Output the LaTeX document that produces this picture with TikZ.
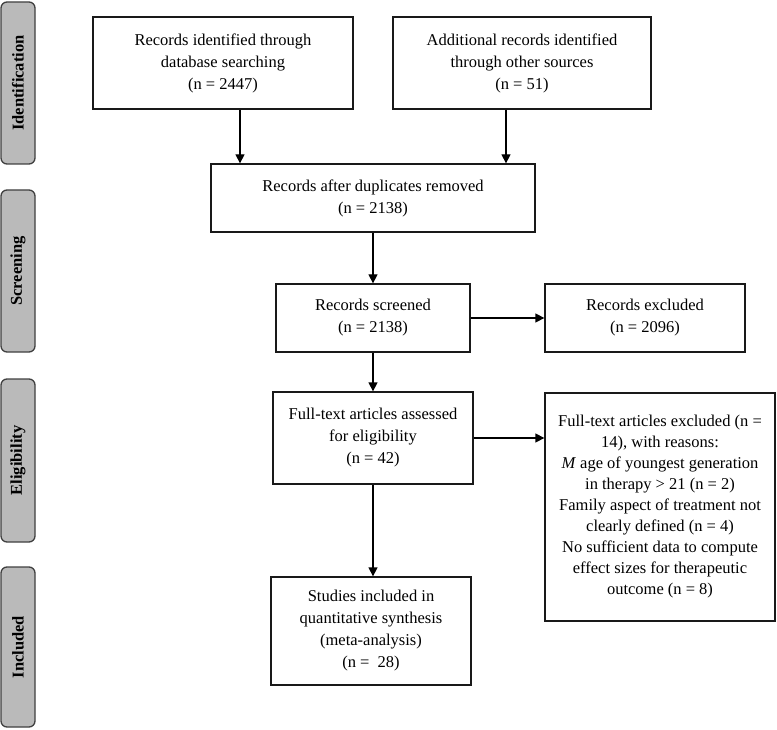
\documentclass[tikz,border=0pt]{standalone}
\usepackage{fontspec}
\setmainfont{Liberation Serif}
\usetikzlibrary{arrows.meta,calc}
\begin{document}
\begin{tikzpicture}[x=1pt,y=-1pt,
 box/.style={draw=black!90,line width=1.3pt,align=center,inner sep=0pt,font=\fontsize{16.5}{22}\selectfont},
 phase/.style={draw=black!75,fill=black!27,line width=1.3pt,rounded corners=6pt,inner sep=0pt,minimum height=34pt,font=\fontsize{16.5}{20}\selectfont\bfseries,rotate=90},
 arr/.style={line width=1.3pt,-{Triangle[length=9pt,width=9pt]}}]
\useasboundingbox (0,0) rectangle (777,730);
% phase labels
\node[phase,minimum width=162pt] (pid) at (18,83) {Identification};
\node[phase,minimum width=162pt] (psc) at (18,271) {Screening};
\node[phase,minimum width=163pt] (pel) at (18,460.5) {Eligibility};
\node[phase,minimum width=160pt] (pin) at (18,647) {Included};
% boxes
\node[box,minimum width=260pt,minimum height=92pt] (b1) at (223,63) {Records identified through\\database searching\\(n = 2447)};
\node[box,minimum width=258pt,minimum height=92pt] (b2) at (522,63) {Additional records identified\\through other sources\\(n = 51)};
\node[box,minimum width=324pt,minimum height=68pt] (b3) at (373,198) {Records after duplicates removed\\(n = 2138)};
\node[box,minimum width=194pt,minimum height=68pt] (scr) at (373,318) {Records screened\\(n = 2138)};
\node[box,minimum width=200pt,minimum height=68pt] (exc) at (645,318) {Records excluded\\(n = 2096)};
\node[box,minimum width=200pt,minimum height=92pt] (ass) at (373,438) {Full-text articles assessed\\for eligibility\\(n = 42)};
\node[box,minimum width=230pt,minimum height=228pt,font=\fontsize{16.5}{21}\selectfont] (fte) at (660,507) {Full-text articles excluded (n =\\14), with reasons:\\\textit{M} age of youngest generation\\in therapy > 21 (n = 2)\\Family aspect of treatment not\\clearly defined (n = 4)\\No sufficient data to compute\\effect sizes for therapeutic\\outcome (n = 8)};
\node[box,minimum width=200pt,minimum height=108pt] (stu) at (371,631) {Studies included in\\quantitative synthesis\\(meta-analysis)\\(n = \ 28)};
% connectors
\draw[arr] ([xshift=17pt]b1.south) -- ([xshift=17pt]b1.south |- b3.north);
\draw[arr] ([xshift=-16pt]b2.south) -- ([xshift=-16pt]b2.south |- b3.north);
\draw[arr] (b3.south -| scr.north) -- (scr.north);
\draw[arr] (scr.south) -- (scr.south |- ass.north);
\draw[arr] (ass.south) -- (ass.south |- stu.north);
\draw[arr] (scr.east) -- (scr.east -| exc.west);
\draw[arr] (ass.east) -- (ass.east -| fte.west);
\end{tikzpicture}
\end{document}
